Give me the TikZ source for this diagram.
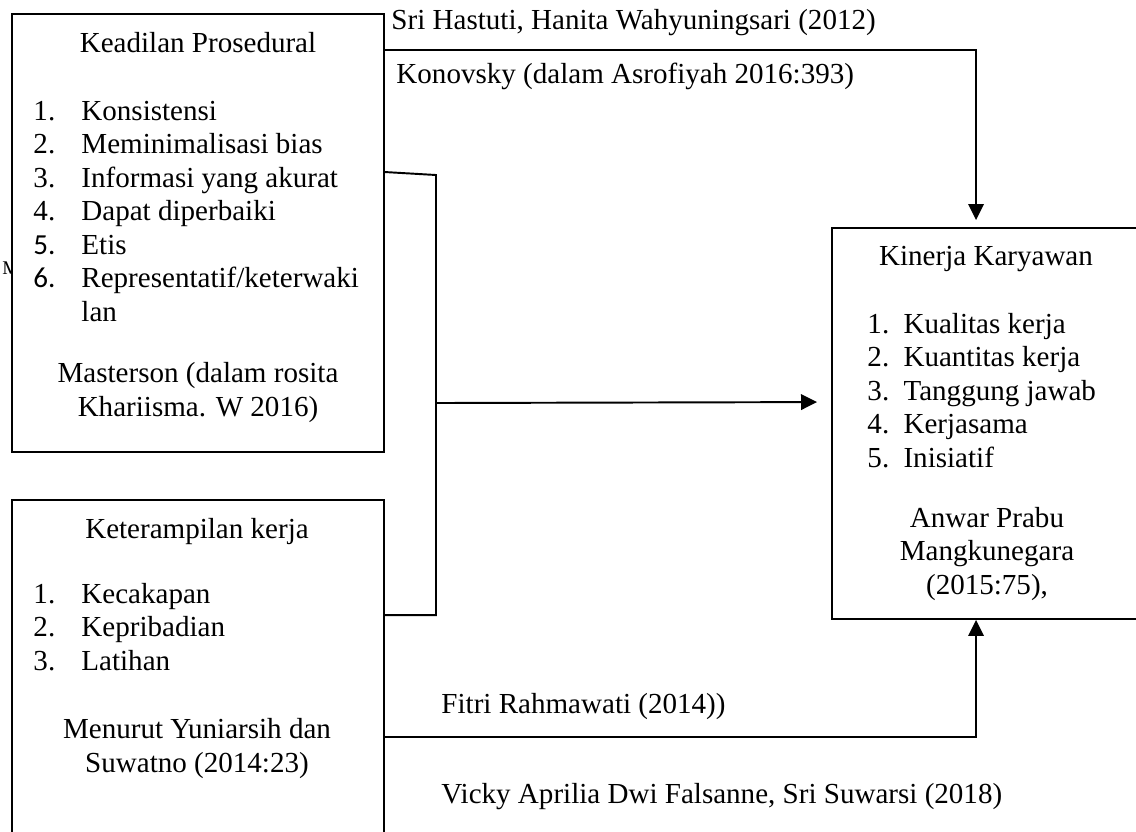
\documentclass[tikz,border=0pt]{standalone}
\usepackage{fontspec}
\setmainfont{Liberation Serif}
\newfontfamily\numfont{Carlito}
\usetikzlibrary{arrows.meta,calc,fit}

\tikzstyle{bS}=[draw, line width=0.8pt, fill=white, inner sep=0pt]
\tikzstyle{tS}=[inner sep=0pt, font=\fontsize{12}{13.8}\selectfont]
\tikzstyle{lS}=[line width=0.8pt]
\tikzstyle{aS}=[line width=0.8pt, -{Triangle[length=6.6pt,width=6.4pt]}]
\newcommand{\nA}[1]{\makebox[19.8pt][l]{#1}}
\newcommand{\nB}[1]{\makebox[14.9pt][l]{#1}}

\begin{document}
\begin{tikzpicture}[x=0.413pt,y=-0.413pt]
        \useasboundingbox (0,0) rectangle (1136,831);
        \clip (0,0) rectangle (1136,831);
                \draw (2,274) node[tS,anchor=base west,font=\fontsize{8}{9}\selectfont] (st) {M};
                % boxes
                \node[bS, fit={(12,14) (384,452)}] (kp) {};
                \node[bS, fit={(12,500) (384,860)}] (kt) {};
                \node[bS, fit={(832,228) (1160,619)}] (kk) {};
                % box texts (multi-line nodes sit on their last baseline)
                \draw (198,52) node[tS,anchor=base] (kpT) {Keadilan Prosedural};
                \draw (33,321) node[tS,anchor=base west,align=left] (kpL) {\nA{1.}Konsistensi\\\nA{2.}Meminimalisasi bias\\\nA{3.}Informasi yang akurat\\\nA{4.}Dapat diperbaiki\\\nA{\numfont 5.}Etis\\\nA{\numfont 6.}Representatif/keterwaki\\\nA{}lan};
                \draw (198,416) node[tS,anchor=base,align=center] (kpC) {Masterson (dalam rosita\\Khariisma. W 2016)};
                \draw (197,538) node[tS,anchor=base] (ktT) {Keterampilan kerja};
                \draw (33,670) node[tS,anchor=base west,align=left] (ktL) {\nA{1.}Kecakapan\\\nA{2.}Kepribadian\\\nA{3.}Latihan};
                \draw (197,772) node[tS,anchor=base,align=center] (ktC) {Menurut Yuniarsih dan\\Suwatno (2014:23)};
                \draw (986,265) node[tS,anchor=base] (kkT) {Kinerja Karyawan};
                \draw (867,467) node[tS,anchor=base west,align=left] (kkL) {\nB{1.}Kualitas kerja\\\nB{2.}Kuantitas kerja\\\nB{3.}Tanggung jawab\\\nB{4.}Kerjasama\\\nB{5.}Inisiatif};
                \draw (987,594) node[tS,anchor=base,align=center] (kkC) {Anwar Prabu\\Mangkunegara\\(2015:75),};
                % line labels
                \draw (391,29) node[tS,anchor=base west] (lSri) {Sri Hastuti, Hanita Wahyuningsari (2012)};
                \draw (396,83) node[tS,anchor=base west] (lKon) {Konovsky (dalam Asrofiyah 2016:393)};
                \draw (441,713) node[tS,anchor=base west] (lFit) {Fitri Rahmawati (2014))};
                \draw (441,803) node[tS,anchor=base west] (lVic) {Vicky Aprilia Dwi Falsanne, Sri Suwarsi (2018)};
                % connectors
                \coordinate (jn) at (436,175);
                \draw[aS, shorten >=2.9pt] ($(kp.north east)+(0,37)$) -| ($(kk.north west)+(145,0)$);
                \draw[lS] ($(kp.north east)+(0,159)$) -- (jn) |- ($(kt.north east)+(0,116)$);
                \draw[aS, shorten >=5.8pt] ($(jn)+(0,228)$) -- ($(kk.north west)+(0,175)$);
                \draw[aS] ($(kt.north east)+(0,238)$) -| ($(kk.south west)+(145,0)$);
        \end{tikzpicture}
\end{document}
